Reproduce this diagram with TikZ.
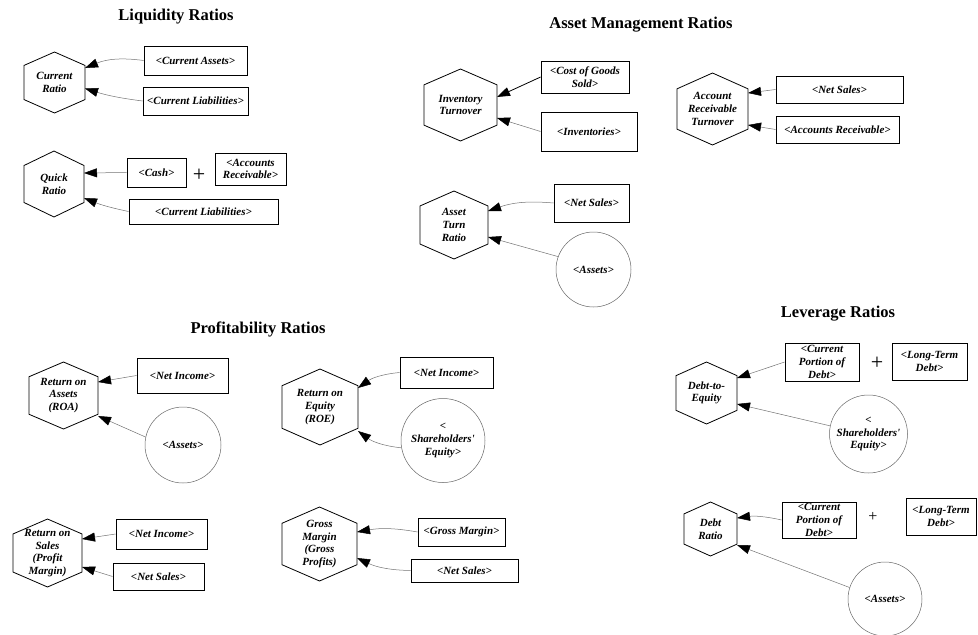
\documentclass[tikz,border=0pt]{standalone}
\usepackage{fontspec}
\setmainfont{Liberation Serif}
\usepackage{tikz}
\usetikzlibrary{arrows.meta, calc}

\begin{document}
\begin{tikzpicture}[x=1pt, y=1pt,
    txt/.style={font=\fontsize{11}{12.7}\selectfont\bfseries\itshape},
    heading/.style={font=\fontsize{16.5}{20}\selectfont\bfseries},
    hexa/.style 2 args={minimum width=#1pt, minimum height=#2pt, inner sep=0pt, outer sep=0pt, align=center, txt},
    box/.style 2 args={draw, line width=0.8pt, minimum width=#1pt, minimum height=#2pt, inner sep=0pt, align=center, txt},
    var/.style={circle, draw=black!60, line width=0.5pt, minimum size=#1pt, inner sep=0pt, align=center, txt},
    plussign/.style={font=\fontsize{#1}{#1}\selectfont, inner sep=0pt},
    conn/.style={draw=black!55, line width=0.5pt, -{Triangle[length=13pt,width=9pt,color=black]}}]

    \useasboundingbox (0,0) rectangle (978,-635);

    % headings
    \node[heading] (liq)  at (176,-17)  {Liquidity Ratios};
    \node[heading] (am)   at (641,-25)  {Asset Management Ratios};
    \node[heading] (prof) at (258,-329) {Profitability Ratios};
    \node[heading] (lev)  at (838,-314) {Leverage Ratios};

    % liquidity
    \node[hexa={61}{61}] (cr) at (54.5,-82.5) {Current\\Ratio};
    \node[box={103}{29}] (ca) at (195.5,-60.5) {<Current Assets>};
    \node[box={105}{28}] (cl) at (195.5,-101) {<Current Liabilities>};

    \node[hexa={60}{66}] (qr) at (54,-184) {Quick\\Ratio};
    \node[box={59}{29}] (cash) at (156.5,-172.5) {<Cash>};
    \node[plussign=22] (p1) at (199,-175) {+};
    \node[box={71}{32}] (ar) at (250.5,-169) {<Accounts\\Receivable>};
    \node[box={149}{25}] (cl2) at (203.5,-211.5) {<Current Liabilities>};

    % asset management
    \node[hexa={73}{72}] (it) at (460.5,-105) {Inventory\\Turnover};
    \node[box={88}{32}] (cogs) at (585,-77) {<Cost of Goods\\Sold>};
    \node[box={96}{39}] (inv) at (589,-131.5) {<Inventories>};

    \node[hexa={71}{72}] (art) at (712.5,-109) {Account\\Receivable\\Turnover};
    \node[box={127}{27}] (ns1) at (839.5,-89.5) {<Net Sales>};
    \node[box={123}{27}] (ar2) at (837.5,-129.5) {<Accounts Receivable>};

    \node[hexa={68}{68}] (atr) at (454,-225) {Asset\\Turn\\Ratio};
    \node[box={75}{38}] (ns2) at (591.5,-203) {<Net Sales>};
    \node[var=75] (as1) at (593.5,-269.5) {<Assets>};

    % profitability
    \node[hexa={69}{67}] (roa) at (63.5,-395.5) {Return on\\Assets\\(ROA)};
    \node[box={91}{35}] (ni1) at (182.5,-375.5) {<Net Income>};
    \node[var=76] (as2) at (183,-445) {<Assets>};

    \node[hexa={76}{76}] (roe) at (320,-407) {Return on\\Equity\\(ROE)};
    \node[box={93}{31}] (ni2) at (446.5,-372.5) {<Net Income>};
    \node[var=84] (se1) at (443,-440.5) {<\\Shareholders\textquotesingle\\Equity>};

    \node[hexa={69}{68}] (ros) at (47.5,-553) {Return on\\Sales\\(Profit\\Margin)};
    \node[box={91}{30}] (ni3) at (161.5,-534) {<Net Income>};
    \node[box={91}{27}] (ns3) at (158.5,-576.5) {<Net Sales>};

    \node[hexa={75}{74}] (gm) at (319.5,-544) {Gross\\Margin\\(Gross\\Profits)};
    \node[box={87}{28}] (gmb) at (461.5,-532) {<Gross Margin>};
    \node[box={107}{23}] (ns4) at (464.5,-570.5) {<Net Sales>};

    % leverage
    \node[hexa={61}{62}] (de) at (706.5,-393) {Debt-to-\\Equity};
    \node[box={74}{38}] (cpd1) at (822,-362) {<Current\\Portion of\\Debt>};
    \node[plussign=22] (p2) at (877,-363) {+};
    \node[box={75}{37}] (ltd1) at (929.5,-361.5) {<Long-Term\\Debt>};
    \node[var=78] (se2) at (868.5,-434) {<\\Shareholders\textquotesingle\\Equity>};

    \node[hexa={53}{54}] (dr) at (710.5,-529) {Debt\\Ratio};
    \node[box={74}{36}] (cpd2) at (819,-520) {<Current\\Portion of\\Debt>};
    \node[plussign=16] (p3) at (873,-517) {+};
    \node[box={70}{37}] (ltd2) at (941,-516.5) {<Long-Term\\Debt>};
    \node[var=74] (as3) at (885,-599) {<Assets>};

    \foreach \h in {cr, qr, it, art, atr, roa, roe, ros, gm, de, dr}
        \draw[line width=0.8pt] (\h.north)
            -- ($(\h.north east)!0.22!(\h.south east)$) -- ($(\h.north east)!0.78!(\h.south east)$)
            -- (\h.south)
            -- ($(\h.north west)!0.78!(\h.south west)$) -- ($(\h.north west)!0.22!(\h.south west)$)
            -- cycle;

    % connectors
    \draw[conn] (ca.west) to[bend right=15] ($(cr.east)+(0,14.5)$);
    \draw[conn] (cl.west) to[bend left=5] ($(cr.east)+(0,-6)$);
    \draw[conn] (cash.west) -- ($(qr.east)+(0,11)$);
    \draw[conn] (cl2.west) to[bend left=5] ($(qr.east)+(0,-14)$);

    \draw[conn, draw=black, line width=0.8pt] (cogs.west) -- ($(it.east)+(0,8)$);
    \draw[conn] (inv.west) -- ($(it.east)+(0,-13)$);
    \draw[conn] (ns1.west) -- ($(art.east)+(0,16)$);
    \draw[conn] (ar2.west) -- ($(art.east)+(0,-16)$);
    \draw[conn] (ns2.west) to[bend right=12] ($(atr.east)+(0,14)$);
    \draw[conn] (as1.160) -- ($(atr.east)+(0,-12)$);

    \draw[conn] (ni1.west) -- ($(roa.east)+(0,13.5)$);
    \draw[conn] (as2.168) -- ($(roa.east)+(0,-20.5)$);
    \draw[conn] (ni2.west) to[bend right=15] ($(roe.east)+(0,19)$);
    \draw[conn] (se1.190) to[bend left=15] ($(roe.east)+(0,-24)$);
    \draw[conn] (ni3.west) -- ($(ros.east)+(0,14)$);
    \draw[conn] (ns3.west) -- ($(ros.east)+(0,-14)$);
    \draw[conn] (gmb.west) to[bend right=10] ($(gm.east)+(0,12)$);
    \draw[conn] (ns4.west) to[bend left=12] ($(gm.east)+(0,-14)$);

    \draw[conn] (cpd1.west) -- ($(de.east)+(0,15)$);
    \draw[conn] (se2.168) -- ($(de.east)+(0,-11)$);
    \draw[conn] (cpd2.west) to[bend right=10] ($(dr.east)+(0,11)$);
    \draw[conn] (as3.162) -- ($(dr.east)+(0,-16)$);

\end{tikzpicture}
\end{document}
